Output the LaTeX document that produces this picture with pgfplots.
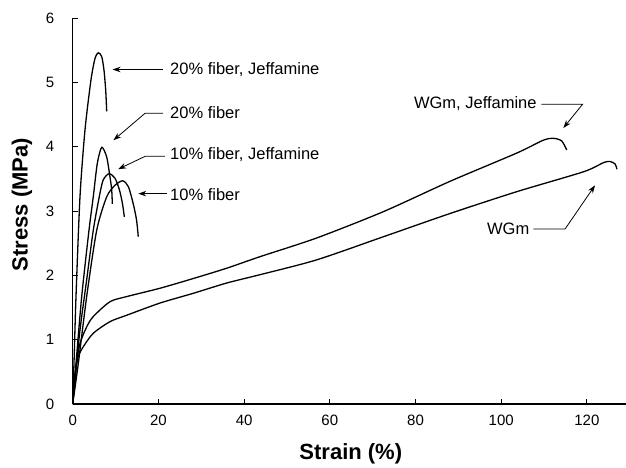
\documentclass[border=0pt]{standalone}
\usepackage{pgfplots}
\pgfplotsset{compat=1.18}
\usepackage{fontspec}
\setmainfont{Liberation Sans}
\usetikzlibrary{arrows.meta}

\begin{document}
\begin{tikzpicture}
% page frame, 1pt = 1px of the reference
\path[use as bounding box] (-72.7pt,-63pt) rectangle (553.3pt,404pt);
\begin{axis}[
    at={(0,0)}, anchor=south west,
    x=4.285pt, y=64.33pt,
    xmin=0, xmax=129.2,
    ymin=0, ymax=6,
    axis lines=left,
    axis line style={-, line width=1.1pt},
    xtick={0,20,40,60,80,100,120},
    ytick={0,1,2,3,4,5,6},
    tick align=inside,
    major tick length=5pt,
    tick style={line width=1pt, black},
    ticklabel style={font=\fontsize{15}{18}\selectfont},
    /pgf/number format/assume math mode=true,
    xticklabel style={yshift=-7pt},
    yticklabel style={xshift=-15pt},
    clip=false,
    curve/.style={black, solid, no markers, line width=1.3pt, smooth, tension=0.45},
]

% 20% fiber, Jeffamine
\addplot[curve] coordinates {
    (0,0) (0.3,0.63) (0.77,1.67) (1.70,3.22) (2.87,4.26) (4.27,5.04)
    (5.2,5.37) (5.98,5.46) (6.77,5.40) (7.3,5.19) (7.7,4.88) (7.93,4.55)
};
% 20% fiber
\addplot[curve] coordinates {
    (0,0) (0.77,0.63) (2.1,1.67) (3.8,2.70) (4.8,3.22) (5.74,3.74)
    (6.77,3.99) (7.93,3.84) (8.7,3.53) (9.1,3.33) (9.25,3.11)
};
% 10% fiber, Jeffamine
\addplot[curve] coordinates {
    (0,0) (0.54,0.37) (1.7,1.15) (3.26,1.93) (4.8,2.70) (6.2,3.22)
    (7.1,3.48) (8.47,3.58) (9.87,3.51) (10.9,3.33) (11.6,3.12) (12.05,2.91)
};
% 10% fiber
\addplot[curve] coordinates {
    (0,0) (1.31,0.63) (3.26,1.67) (5.6,2.70) (7.93,3.22) (9.87,3.40)
    (11.67,3.47) (12.98,3.38) (14.1,3.12) (14.9,2.86) (15.3,2.60)
};
% WGm, Jeffamine
\addplot[curve] coordinates {
    (0,0) (0.93,0.63) (1.70,0.94) (3.27,1.20) (4.81,1.36) (8.7,1.59)
    (12.6,1.67) (20.4,1.80) (28.1,1.95) (35.9,2.11) (43.7,2.29)
    (56.9,2.58) (72.5,2.99) (88.0,3.46) (103.6,3.90) (109.8,4.10)
    (112.2,4.13) (114.1,4.09) (115.3,3.95)
};
% WGm
\addplot[curve] coordinates {
    (0,0) (0.54,0.48) (1.31,0.74) (2.47,0.89) (4.81,1.10) (8.7,1.28)
    (12.6,1.38) (20.4,1.57) (28.1,1.72) (35.9,1.88) (43.7,2.01)
    (56.9,2.24) (72.5,2.60) (88.0,2.96) (103.6,3.30) (119.2,3.61)
    (123.8,3.75) (125.4,3.77) (126.6,3.73) (127,3.65)
};

% annotations
\tikzset{lab/.style={anchor=west, inner sep=0pt, font=\fontsize{16.5}{19}\selectfont},
         arr/.style={line width=0.8pt, -{Stealth[length=8pt,width=5.5pt]}}}
\draw[arr] (axis cs:21.1,5.20) -- (axis cs:9.3,5.20);
\node[lab] at (axis cs:22.7,5.20) {20\% fiber, Jeffamine};
\draw[arr] (axis cs:21.1,4.52) -- (axis cs:16.9,4.52) -- (axis cs:9.5,4.10);
\node[lab] at (axis cs:22.7,4.53) {20\% fiber};
\draw[arr] (axis cs:21.5,3.85) -- (axis cs:16.9,3.85) -- (axis cs:10.6,3.65);
\node[lab] at (axis cs:22.7,3.87) {10\% fiber, Jeffamine};
\draw[arr] (axis cs:21.9,3.27) -- (axis cs:15.3,3.27);
\node[lab] at (axis cs:22.7,3.26) {10\% fiber};

\draw[arr] (axis cs:109.4,4.66) -- (axis cs:119,4.66) -- (axis cs:114.5,4.29);
\node[lab, anchor=east] at (axis cs:108.3,4.67) {WGm, Jeffamine};
\draw[arr] (axis cs:107.5,2.72) -- (axis cs:114.9,2.72) -- (axis cs:121.9,3.40);
\node[lab, anchor=east] at (axis cs:106.6,2.73) {WGm};

% axis titles
\node[font=\bfseries\fontsize{22}{26}\selectfont] at (axis cs:64.9,-0.777) {Strain (\%)};
\node[rotate=90, font=\bfseries\fontsize{22}{26}\selectfont] at (axis cs:-11.83,3.1) {Stress (MPa)};
\end{axis}
\end{tikzpicture}
\end{document}
